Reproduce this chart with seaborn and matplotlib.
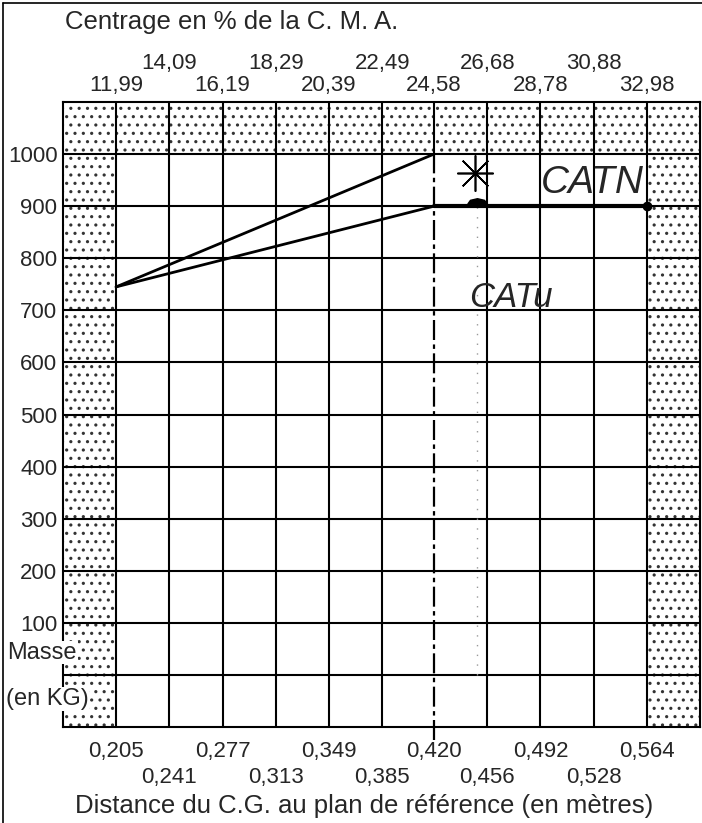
import matplotlib
matplotlib.use("Agg")
import matplotlib.pyplot as plt
from matplotlib.lines import Line2D
import seaborn as sns

# Graduations de l'abaque (distance du C.G. en m, centrage en % CMA, masse en kg)
distance_ticks = [0.205, 0.241, 0.277, 0.313, 0.349, 0.385, 0.420, 0.456, 0.492, 0.528, 0.564]
distance_labels = ["0,205", "0,241", "0,277", "0,313", "0,349", "0,385",
                   "0,420", "0,456", "0,492", "0,528", "0,564"]
cma_labels = ["11,99", "14,09", "16,19", "18,29", "20,39", "22,49",
              "24,58", "26,68", "28,78", "30,88", "32,98"]
mass_ticks = [100, 200, 300, 400, 500, 600, 700, 800, 900, 1000]
x_edges = [0.1691, 0.5999]
mass_edges = [-100, 1100]

# Limites de centrage
limit_upper_x = [0.205, 0.420]
limit_upper_m = [745, 1000]
limit_lower_x = [0.205, 0.420]
limit_lower_m = [745, 900]
catn_x = [0.420, 0.564]
catn_m = [900, 900]
catu_x = [0.449, 0.449]
catu_m = [0, 900]
limit_x = 0.420

sns.set_style("white")
plt.rcParams["font.family"] = ["Liberation Sans", "DejaVu Sans"]
plt.rcParams["hatch.linewidth"] = 1.1

fig = plt.figure(figsize=(7.02, 8.23), dpi=100)
ax = fig.add_axes([63 / 702, 96 / 823, 637 / 702, 625 / 823])
ax.set_xlim(x_edges)
ax.set_ylim(mass_edges)

# zones pointillées (hors abaque)
hatch_kw = dict(facecolor="white", edgecolor="0.2", hatch="..", linewidth=0)
ax.fill_between(x_edges, mass_ticks[-1], mass_edges[1], **hatch_kw)
ax.fill_between([x_edges[0], distance_ticks[0]], mass_edges[0], mass_ticks[-1], **hatch_kw)
ax.fill_between([distance_ticks[-1], x_edges[1]], mass_edges[0], mass_ticks[-1], **hatch_kw)

# quadrillage
for x in distance_ticks:
    if x == limit_x:
        ax.plot([x, x], [mass_ticks[-1], mass_edges[1]], color="black", lw=1.5)
    else:
        ax.axvline(x, color="black", lw=1.5)
for m in [0] + mass_ticks:
    ax.axhline(m, color="black", lw=1.5)
for s in ax.spines.values():
    s.set_color("black")
    s.set_linewidth(1.5)

# limite verticale CATu (tiretée)
ax.plot([limit_x, limit_x], [mass_edges[0] - 25, mass_ticks[-1]], color="black",
        lw=1.6, ls=(0, (9, 2, 2, 2)), clip_on=False)
ax.plot(catu_x, catu_m, color="0.6", lw=1, ls=(0, (1, 6)))

# limites de centrage
sns.lineplot(x=limit_upper_x, y=limit_upper_m, color="black", lw=2, ax=ax)
sns.lineplot(x=limit_lower_x, y=limit_lower_m, color="black", lw=2, ax=ax)
sns.lineplot(x=catn_x, y=catn_m, color="black", lw=3, ax=ax)
ax.plot(catn_x[-1], catn_m[-1], marker="o", ms=6, color="black")
ax.plot(catu_x[0], catn_m[0] + 8, color="black", ms=14,
        marker=[(-1.8, -0.3), (-1.3, 0.4), (0, 0.7), (1.3, 0.4), (1.8, -0.3)])
ax.plot(0.448, 963, marker=(8, 2, 0), ms=26, color="black", mew=1.2)

ax.text(0.527, 945, "CATN", fontsize=28, style="italic", ha="center", va="center")
ax.text(0.472, 724, "CATu", fontsize=25, style="italic", ha="center", va="center")

# graduations
ax.set_xticks(distance_ticks, [lab if i % 2 == 0 else "\n" + lab
                               for i, lab in enumerate(distance_labels)])
ax.set_yticks(mass_ticks, [str(m) for m in mass_ticks])
ax.tick_params(axis="x", length=0, pad=10, labelsize=16)
ax.tick_params(axis="y", length=0, pad=4, labelsize=16)
for t in ax.get_xticklabels():
    t.set_linespacing(1.3)

top = ax.secondary_xaxis("top")
top.set_xticks(distance_ticks, [lab if i % 2 == 0 else lab + "\n"
                                for i, lab in enumerate(cma_labels)])
top.tick_params(length=0, pad=4, labelsize=16)
for t in top.get_xticklabels():
    t.set_linespacing(1.1)

lbl_kw = dict(transform=ax.get_yaxis_transform(), fontsize=17, va="baseline", ha="left",
              bbox=dict(facecolor="white", edgecolor="none", pad=0.5))
ax.text(-0.087, 31, "Masse", **lbl_kw)
ax.text(-0.090, -58, "(en KG)", **lbl_kw)

fig.text(65 / 702, 1 - 29 / 823, "Centrage en % de la C. M. A.", fontsize=18.5,
         ha="left", va="baseline")
fig.text(364 / 702, 1 - 813 / 823, "Distance du C.G. au plan de référence (en mètres)",
         fontsize=18.5, ha="center", va="baseline")

# cadre de la page scannée
fig.add_artist(Line2D([3 / 702, 3 / 702], [0, 1 - 3 / 823], color="black", lw=1.2))
fig.add_artist(Line2D([3 / 702, 1], [1 - 3 / 823, 1 - 3 / 823], color="black", lw=1.2))

fig.savefig("out.png", dpi=100)
